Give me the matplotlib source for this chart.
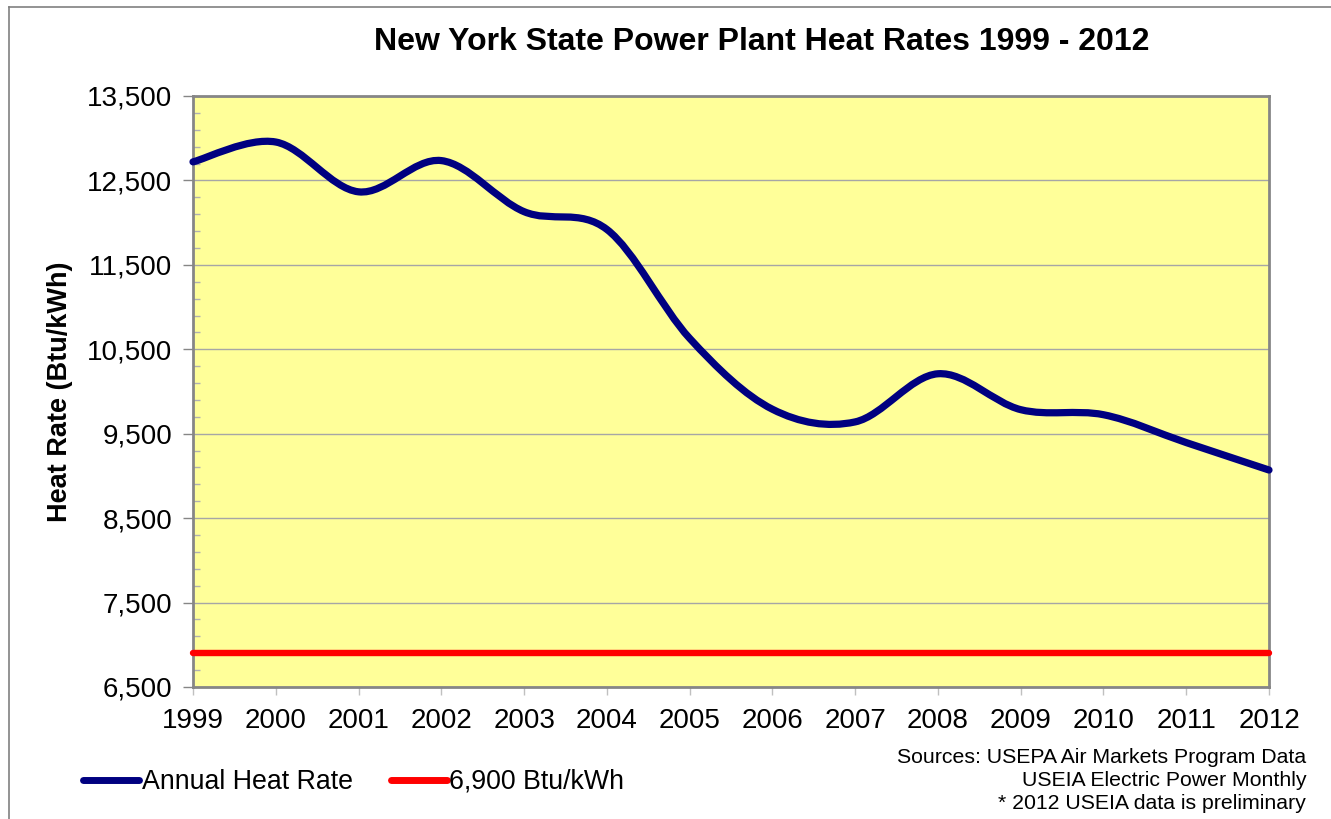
import numpy as np
import matplotlib
matplotlib.use("Agg")
import matplotlib.pyplot as plt
from matplotlib.path import Path
from matplotlib.patches import PathPatch
from matplotlib.lines import Line2D
from matplotlib.ticker import FixedLocator, FuncFormatter

plt.rcParams['font.family'] = ['Liberation Sans', 'DejaVu Sans']

years = [1999, 2000, 2001, 2002, 2003, 2004, 2005, 2006, 2007, 2008, 2009, 2010, 2011, 2012]
heat_rate = [12720, 12955, 12365, 12735, 12130, 11920, 10630, 9790, 9640, 10210, 9785, 9725, 9395, 9070]
target = 6900

y_major = [6500, 7500, 8500, 9500, 10500, 11500, 12500, 13500]

TITLE = "New York State Power Plant Heat Rates 1999 - 2012"
YLABEL = "Heat Rate (Btu/kWh)"
SOURCES = "Sources: USEPA Air Markets Program Data\nUSEIA Electric Power Monthly\n* 2012 USEIA data is preliminary"

NAVY = "#000080"
RED = "#FF0000"
YELLOW = "#FFFF99"
GRAY = "#868686"


def smooth_path(xs, ys):
    # Excel-style smoothed line: cubic bezier through each point (Catmull-Rom)
    p = np.column_stack([xs, ys]).astype(float)
    n = len(p)
    verts = [p[0]]
    codes = [Path.MOVETO]
    for i in range(n - 1):
        prev = p[i - 1] if i > 0 else p[i]
        nxt = p[i + 2] if i + 2 < n else p[i + 1]
        c1 = p[i] + (p[i + 1] - prev) / 6
        c2 = p[i + 1] - (nxt - p[i]) / 6
        verts += [c1, c2, p[i + 1]]
        codes += [Path.CURVE4] * 3
    return Path(verts, codes)


fig = plt.figure(figsize=(13.31, 8.19), dpi=100)
ax = fig.add_axes([193 / 1331, 1 - 687 / 819, (1269 - 193) / 1331, (687 - 96) / 819])
ax.set_facecolor(YELLOW)

ax.set_xlim(years[0], years[-1])
ax.set_ylim(y_major[0], y_major[-1])

# reference line
ax.plot([years[0], years[-1]], [target, target], color=RED, lw=4.6,
        solid_capstyle='round', clip_on=False, zorder=3)

# smoothed heat rate line
patch = PathPatch(smooth_path(years, heat_rate), fill=False, edgecolor=NAVY,
                  lw=5.2, capstyle='round', joinstyle='round', clip_on=False, zorder=4)
ax.add_patch(patch)

minor = [v for v in range(y_major[0], y_major[-1], 200) if v not in y_major]
ax.yaxis.set_major_locator(FixedLocator(y_major))
ax.yaxis.set_minor_locator(FixedLocator(minor))
ax.yaxis.set_major_formatter(FuncFormatter(lambda v, p: f"{int(v):,}"))
ax.set_xticks(years)
ax.set_xticklabels([str(y) for y in years])

ax.grid(axis='y', which='major', color='#A6A6A6', lw=1.0)
ax.set_axisbelow(True)

for s in ax.spines.values():
    s.set_color(GRAY)
    s.set_linewidth(2)

ax.tick_params(axis='y', which='major', direction='out', length=7, width=1, color=GRAY,
               labelsize=20, pad=8)
ax.tick_params(axis='y', which='minor', direction='in', length=5, width=1, color='#B0B0B0')
ax.tick_params(axis='x', which='major', direction='out', length=6, width=1, color='#C0C0C0',
               labelsize=20, pad=9)

ax.set_ylabel(YLABEL, fontsize=19.5, fontweight='bold')
ax.yaxis.set_label_coords(-0.1115, 0.5)

fig.text(762 / 1331, 1 - 42 / 819, TITLE, ha='center', va='center',
         fontsize=23, fontweight='bold')

fig.text(1306 / 1331, 1 - 748 / 819, SOURCES, ha='right', va='top',
         fontsize=15.3, linespacing=1.27)

handles = [Line2D([], [], color=NAVY, lw=5, solid_capstyle='round'),
           Line2D([], [], color=RED, lw=5, solid_capstyle='round')]
fig.legend(handles, ["Annual Heat Rate", "6,900 Btu/kWh"], ncol=2, frameon=False,
           loc='center left', bbox_to_anchor=(83 / 1331, 1 - 782 / 819),
           borderaxespad=0, borderpad=0,
           fontsize=19.3, handlelength=2.1, handletextpad=0.1, columnspacing=1.4)

# chart border (top and left edges visible)
fig.add_artist(Line2D([8.5 / 1331, 8.5 / 1331], [0, 1 - 6.5 / 819], color='#808080', lw=1.2))
fig.add_artist(Line2D([8.5 / 1331, 1], [1 - 6.5 / 819, 1 - 6.5 / 819], color='#808080', lw=1.2))

fig.savefig("out.png", dpi=100)
